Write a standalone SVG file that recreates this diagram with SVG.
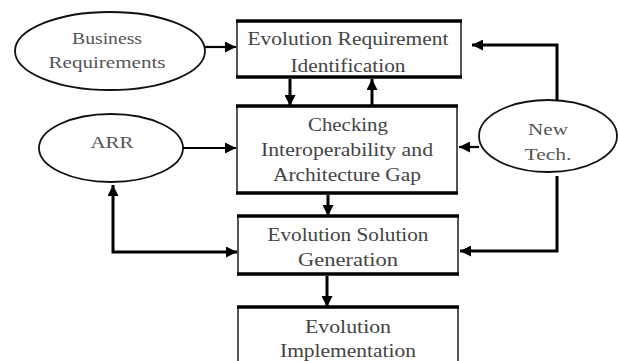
<svg xmlns="http://www.w3.org/2000/svg" width="618" height="361" viewBox="0 0 618 361">
<defs>
<style>
.box{fill:#fff;stroke:#555;stroke-width:2}
.edge{fill:none;stroke:#000;stroke-width:3.5}
.ell{fill:#fff;stroke:#111;stroke-width:1.8}
.t{font-family:"Liberation Serif","Times New Roman",serif;font-size:19px;fill:#444;text-anchor:middle}
.ts{font-family:"Liberation Serif","Times New Roman",serif;font-size:16px;fill:#555;text-anchor:middle}
.c{fill:none;stroke:#000;stroke-width:3}
.c2{fill:none;stroke:#000;stroke-width:2.2}
</style>
<marker id="ah" viewBox="0 0 10 10" refX="10" refY="5" markerWidth="11" markerHeight="11" markerUnits="userSpaceOnUse" orient="auto-start-reverse">
<path d="M0,0 L10,5 L0,10 Z" fill="#000"/>
</marker>
</defs>
<g id="business-requirements">
<ellipse class="ell" cx="110" cy="51" rx="95" ry="39"/>
<text class="ts" x="107" y="44" textLength="70" lengthAdjust="spacingAndGlyphs">Business</text>
<text class="ts" x="107" y="68" textLength="117" lengthAdjust="spacingAndGlyphs">Requirements</text>
</g>
<g id="arr">
<ellipse class="ell" cx="111" cy="148" rx="72" ry="34"/>
<text class="ts" x="112" y="148" textLength="43" lengthAdjust="spacingAndGlyphs">ARR</text>
</g>
<g id="new-tech">
<ellipse class="ell" cx="548" cy="136" rx="69" ry="36"/>
<text class="ts" x="548" y="135" textLength="40" lengthAdjust="spacingAndGlyphs">New</text>
<text class="ts" x="548" y="160" textLength="47" lengthAdjust="spacingAndGlyphs">Tech.</text>
</g>
<g id="req-identification">
<rect class="box" x="237" y="21" width="224" height="56"/>
<path class="edge" d="M236,21H462M236,77H462"/>
<text class="t" x="348" y="45" textLength="201" lengthAdjust="spacingAndGlyphs">Evolution Requirement</text>
<text class="t" x="348" y="72" textLength="115" lengthAdjust="spacingAndGlyphs">Identification</text>
</g>
<g id="checking">
<rect class="box" x="237" y="106" width="220" height="87"/>
<path class="edge" d="M236,106H458M236,193H458"/>
<text class="t" x="348" y="131" textLength="80" lengthAdjust="spacingAndGlyphs">Checking</text>
<text class="t" x="347" y="156" textLength="172" lengthAdjust="spacingAndGlyphs">Interoperability and</text>
<text class="t" x="347" y="181" textLength="148" lengthAdjust="spacingAndGlyphs">Architecture Gap</text>
</g>
<g id="solution-generation">
<rect class="box" x="238" y="216" width="220" height="58"/>
<path class="edge" d="M237,216H459M237,274H459"/>
<text class="t" x="348" y="241" textLength="161" lengthAdjust="spacingAndGlyphs">Evolution Solution</text>
<text class="t" x="348" y="266" textLength="100" lengthAdjust="spacingAndGlyphs">Generation</text>
</g>
<g id="implementation">
<rect class="box" x="238" y="307" width="220" height="70"/>
<path class="edge" d="M237,307H459"/>
<text class="t" x="348" y="333" textLength="86" lengthAdjust="spacingAndGlyphs">Evolution</text>
<text class="t" x="348" y="357" textLength="136" lengthAdjust="spacingAndGlyphs">Implementation</text>
</g>
<g id="connectors">
<path class="c2" d="M205,47H236" marker-end="url(#ah)"/>
<path class="c" d="M290,79V106" marker-end="url(#ah)"/>
<path class="c" d="M372,105V79" marker-end="url(#ah)"/>
<path class="c2" d="M183,148H236" marker-end="url(#ah)"/>
<path class="c" d="M328,195V216" marker-end="url(#ah)"/>
<path class="c" d="M327,276V307" marker-end="url(#ah)"/>
<path class="c" d="M113,185V252H237" marker-start="url(#ah)" marker-end="url(#ah)"/>
<path class="c" d="M557,101V45H472" marker-end="url(#ah)"/>
<path class="c2" d="M479,147H459" marker-end="url(#ah)"/>
<path class="c" d="M557,176V251H460" marker-end="url(#ah)"/>
</g>
</svg>
